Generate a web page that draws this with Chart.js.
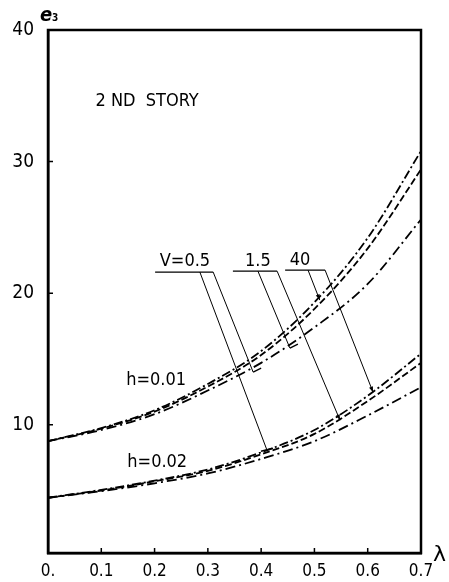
<!DOCTYPE html>
<html>
<head>
<meta charset="utf-8">
<script src="https://cdn.jsdelivr.net/npm/chart.js@4"></script>
<style>
  html, body { margin: 0; padding: 0; background: #fff; }
  canvas { display: block; }
</style>
</head>
<body>
<canvas id="c" width="449" height="582"></canvas>
<script>
// λ sample points shared by every curve
const lambdaValues = [0, 0.1, 0.2, 0.3, 0.4, 0.5, 0.6, 0.7];

// e3 for h = 0.01 (three values of V)
const h001_V05 = [8.75, 9.75, 11.1, 13.1, 15.6, 19.3, 24.2, 30.8];
const h001_V15 = [8.75, 9.7, 11.0, 12.9, 15.3, 18.8, 23.4, 29.4];
const h001_V40 = [8.75, 9.6, 10.8, 12.6, 14.7, 17.4, 20.7, 25.6];

// e3 for h = 0.02 (three values of V)
const h002_V05 = [4.45, 5.05, 5.75, 6.6, 7.9, 9.6, 12.2, 15.4];
const h002_V15 = [4.45, 5.0, 5.7, 6.5, 7.75, 9.3, 11.8, 14.7];
const h002_V40 = [4.45, 4.95, 5.55, 6.3, 7.4, 8.75, 10.7, 12.85];

// axis ticks
const xTickValues = [0, 0.1, 0.2, 0.3, 0.4, 0.5, 0.6, 0.7];
const xTickLabels = ['0.', '0.1', '0.2', '0.3', '0.4', '0.5', '0.6', '0.7'];
const yTickValues = [10, 20, 30, 40];
const yTickLabels = ['10', '20', '30', '40'];

// text placed in data units (λ, e3)
const notes = [
  { text: '2 ND  STORY', x: 0.186, y: 34.6 },
  { text: 'h=0.01', x: 0.203, y: 13.4 },
  { text: 'h=0.02', x: 0.205, y: 7.15 },
  { text: 'V=0.5', x: 0.257, y: 22.4 },
  { text: '1.5', x: 0.394, y: 22.4 },
  { text: '40', x: 0.473, y: 22.5 }
];
// underlines under the V labels: [x1, x2, y]
const underlines = [
  [0.201, 0.310, 21.6],
  [0.347, 0.430, 21.67],
  [0.445, 0.520, 21.75]
];
// leader lines: [x1, y1, x2, y2, end style]
const leaders = [
  [0.285, 21.6, 0.411, 8.06, 'tick'],
  [0.310, 21.6, 0.385, 14.0, 'foot'],
  [0.394, 21.67, 0.454, 15.82, 'foot'],
  [0.430, 21.67, 0.548, 10.34, 'arrow'],
  [0.488, 21.75, 0.510, 19.47, 'arrow'],
  [0.520, 21.75, 0.610, 12.47, 'arrow']
];

const FONT = '"Liberation Sans Narrow", "DejaVu Sans Condensed", "Liberation Sans", Arial, sans-serif';

function pts(ys) { return lambdaValues.map((x, i) => ({ x: x, y: ys[i] })); }

const dashA = [9, 3, 2, 3];
const dashB = [7, 3];
const dashC = [10, 4, 2, 4];

function ds(ys, dash) {
  return {
    data: pts(ys),
    borderColor: '#000',
    borderWidth: 1.8,
    borderDash: dash,
    pointRadius: 0,
    fill: false,
    cubicInterpolationMode: 'monotone'
  };
}

const decor = {
  id: 'decor',
  afterDatasetsDraw(chart) {
    const ctx = chart.ctx;
    const xs = chart.scales.x, ys = chart.scales.y;
    const a = chart.chartArea;
    const px = v => xs.getPixelForValue(v);
    const py = v => ys.getPixelForValue(v);
    ctx.save();
    ctx.strokeStyle = '#000';
    ctx.fillStyle = '#000';

    // frame
    ctx.lineWidth = 2.5;
    ctx.strokeRect(a.left, a.top, a.right - a.left, a.bottom - a.top);

    // inward ticks
    ctx.lineWidth = 1.5;
    ctx.beginPath();
    xTickValues.forEach(v => {
      const x = px(v);
      ctx.moveTo(x, a.bottom); ctx.lineTo(x, a.bottom - 5);
    });
    yTickValues.forEach(v => {
      const y = py(v);
      ctx.moveTo(a.left, y); ctx.lineTo(a.left + 5, y);
    });
    ctx.stroke();

    // texts
    ctx.font = '18px ' + FONT;
    ctx.textAlign = 'center';
    ctx.textBaseline = 'middle';
    notes.forEach(n => ctx.fillText(n.text, px(n.x), py(n.y)));

    // underlines
    ctx.lineWidth = 1.3;
    ctx.beginPath();
    underlines.forEach(u => {
      ctx.moveTo(px(u[0]), py(u[2]));
      ctx.lineTo(px(u[1]), py(u[2]));
    });
    ctx.stroke();

    // leader lines
    ctx.lineWidth = 1;
    leaders.forEach(l => {
      const x1 = px(l[0]), y1 = py(l[1]), x2 = px(l[2]), y2 = py(l[3]);
      ctx.beginPath();
      ctx.moveTo(x1, y1); ctx.lineTo(x2, y2);
      ctx.stroke();
      const ang = Math.atan2(y2 - y1, x2 - x1);
      if (l[4] === 'arrow') {
        ctx.beginPath();
        ctx.moveTo(x2, y2);
        ctx.lineTo(x2 - 6 * Math.cos(ang - 0.35), y2 - 6 * Math.sin(ang - 0.35));
        ctx.lineTo(x2 - 6 * Math.cos(ang + 0.35), y2 - 6 * Math.sin(ang + 0.35));
        ctx.closePath();
        ctx.fill();
      } else if (l[4] === 'foot') {
        ctx.lineWidth = 1.3;
        ctx.beginPath();
        ctx.moveTo(x2, y2);
        ctx.lineTo(x2 + 8, y2 - 4);
        ctx.stroke();
        ctx.lineWidth = 1;
      } else {
        ctx.lineWidth = 1.5;
        ctx.beginPath();
        ctx.moveTo(x2 - 6, y2 + 1);
        ctx.lineTo(x2 + 6, y2 - 2);
        ctx.stroke();
        ctx.lineWidth = 1;
      }
    });

    // axis titles
    ctx.textAlign = 'left';
    ctx.textBaseline = 'alphabetic';
    ctx.font = 'italic bold 20px ' + FONT;
    ctx.fillText('e', a.left - 8, a.top - 9);
    ctx.font = 'bold 10px ' + FONT;
    ctx.fillText('3', a.left + 4, a.top - 9);
    ctx.font = '22px "DejaVu Sans", sans-serif';
    ctx.fillText('λ', a.right + 12, a.bottom + 8);
    ctx.restore();
  }
};

new Chart(document.getElementById('c'), {
  type: 'line',
  data: {
    datasets: [
      ds(h001_V05, dashA), ds(h001_V15, dashB), ds(h001_V40, dashC),
      ds(h002_V05, dashA), ds(h002_V15, dashB), ds(h002_V40, dashC)
    ]
  },
  options: {
    responsive: false,
    animation: false,
    devicePixelRatio: 1,
    layout: { padding: { top: 30, right: 28, left: 0, bottom: 0 } },
    plugins: { legend: { display: false }, tooltip: { enabled: false } },
    scales: {
      x: {
        type: 'linear',
        min: 0, max: 0.7,
        afterBuildTicks: s => { s.ticks = xTickValues.map(v => ({ value: v })); },
        afterFit: s => { s.height = 29; },
        ticks: {
          autoSkip: false,
          maxRotation: 0,
          padding: 8,
          color: '#000',
          font: { family: FONT, size: 17 },
          callback: (v, i) => xTickLabels[i]
        },
        grid: { drawOnChartArea: false, drawTicks: false },
        border: { display: true, color: '#000', width: 2.5 }
      },
      y: {
        type: 'linear',
        min: 0.25, max: 40,
        afterBuildTicks: s => { s.ticks = yTickValues.map(v => ({ value: v })); },
        afterFit: s => { s.width = 48; },
        ticks: {
          autoSkip: false,
          padding: 14,
          color: '#000',
          font: { family: FONT, size: 19 },
          callback: (v, i) => yTickLabels[i]
        },
        grid: { drawOnChartArea: false, drawTicks: false },
        border: { display: true, color: '#000', width: 2.5 }
      }
    }
  },
  plugins: [decor]
});
</script>
</body>
</html>
